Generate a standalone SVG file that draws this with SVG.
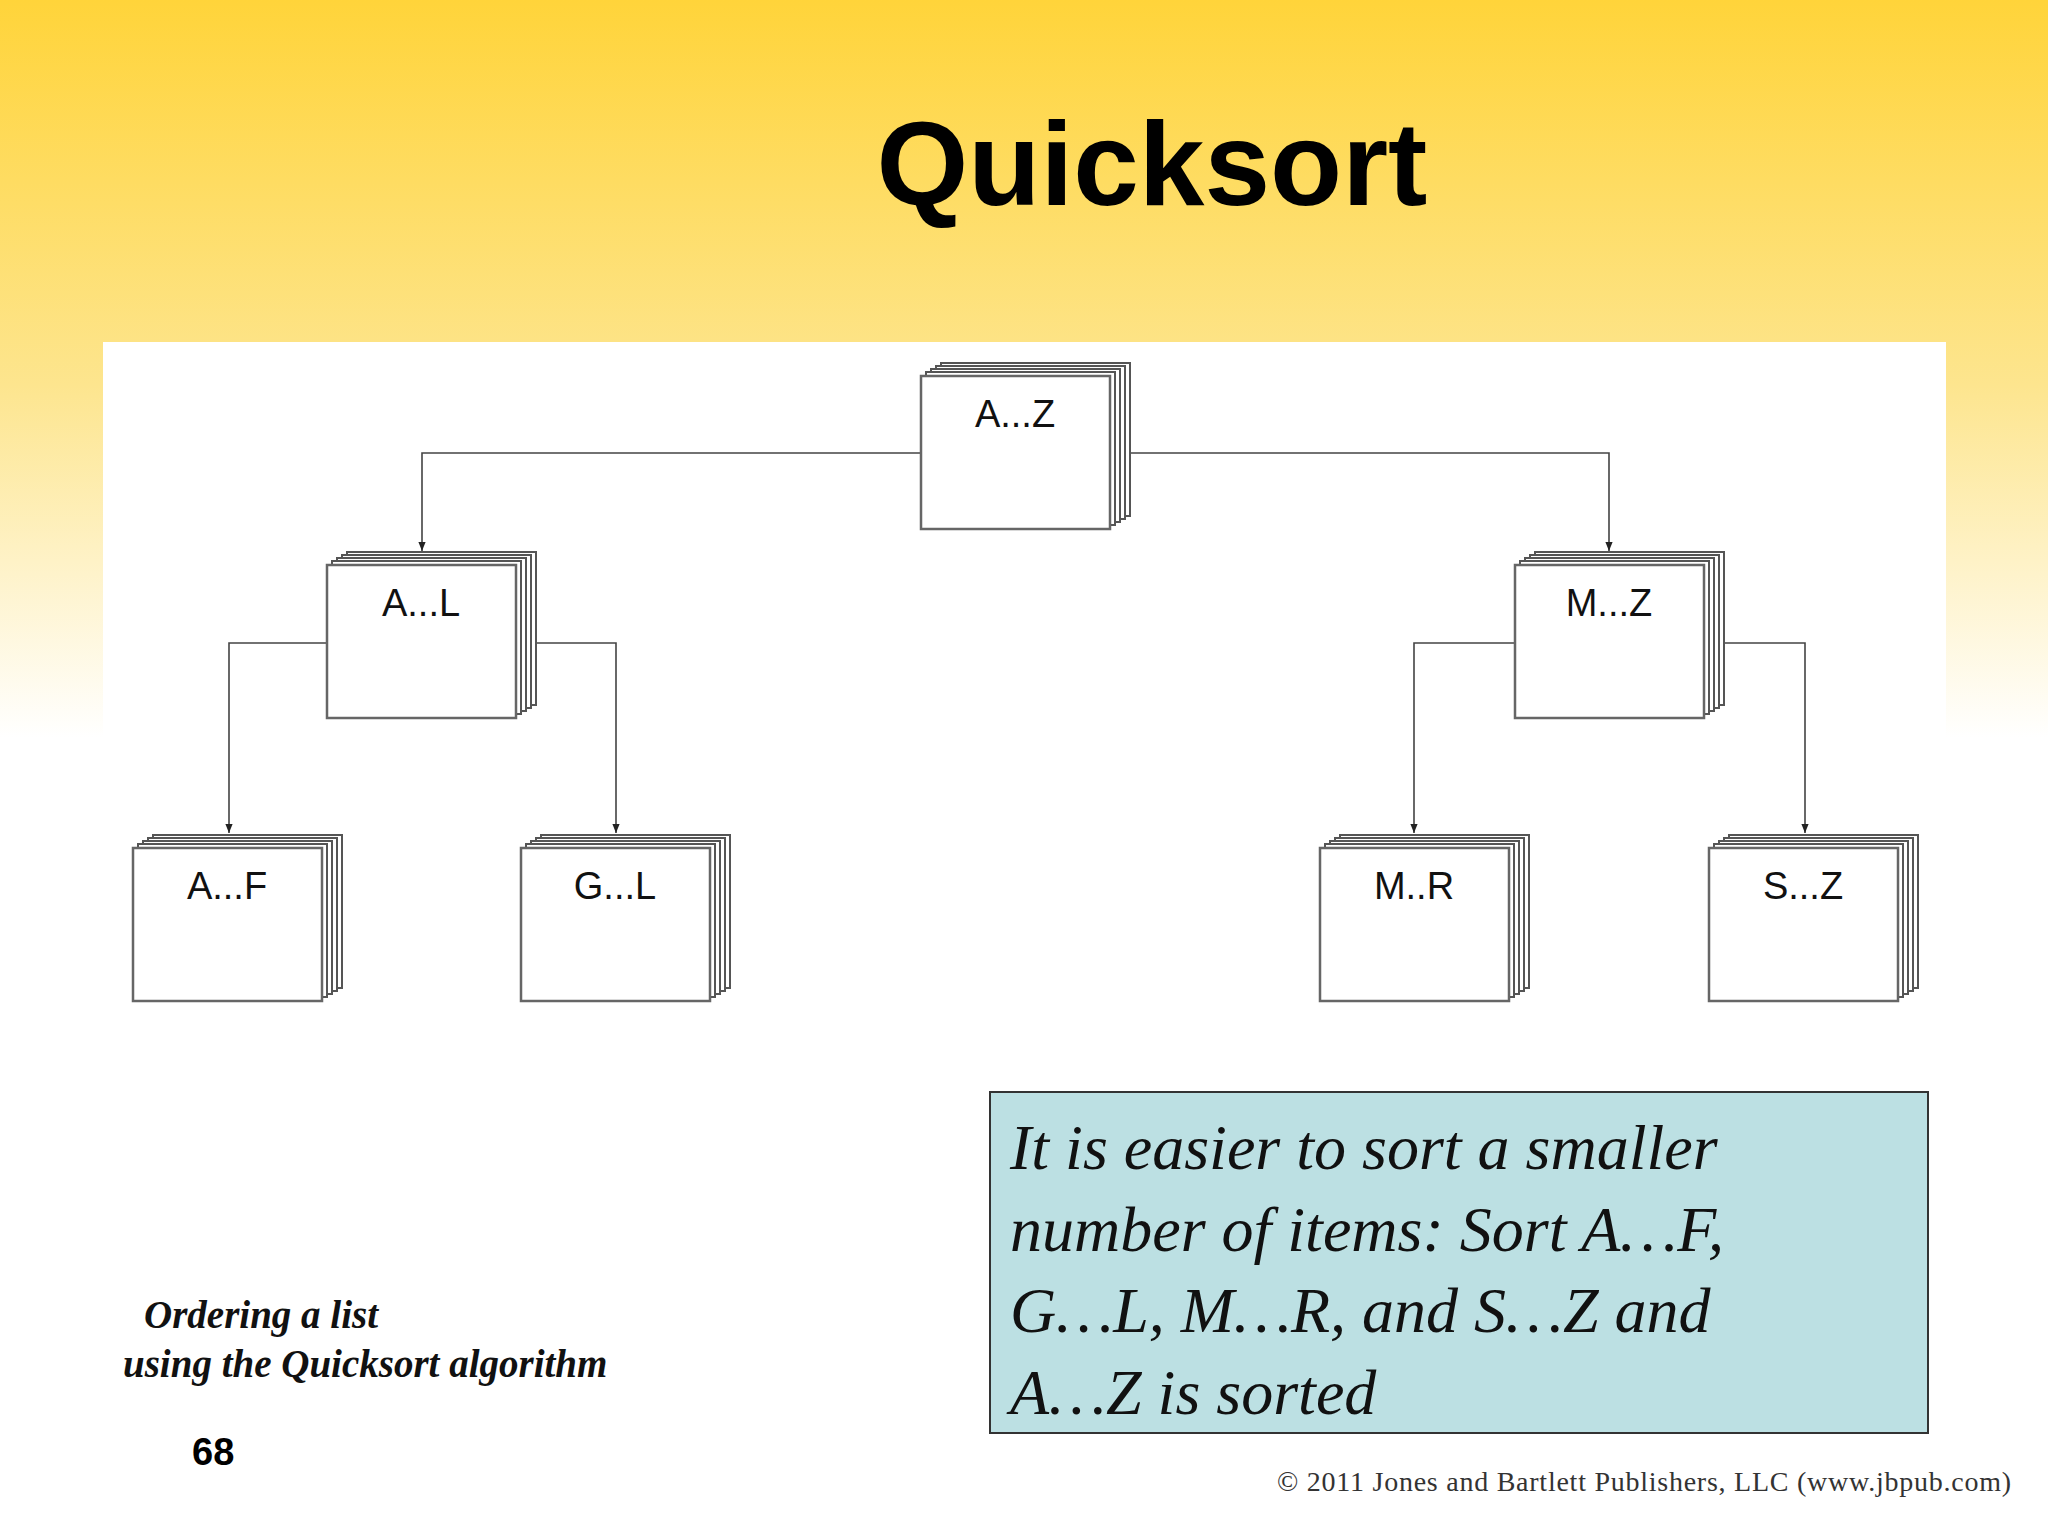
<svg xmlns="http://www.w3.org/2000/svg" width="2048" height="1536" viewBox="0 0 2048 1536">
<defs>
<linearGradient id="bg" x1="0" y1="0" x2="0" y2="1">
<stop offset="0" stop-color="#FFD43A"/><stop offset="0.25" stop-color="#FDE58E"/><stop offset="0.48" stop-color="#FFFFFF"/><stop offset="1" stop-color="#FFFFFF"/>
</linearGradient>
<marker id="ar" viewBox="0 0 10 10" refX="10" refY="5" markerWidth="9" markerHeight="9" orient="auto" markerUnits="userSpaceOnUse"><path d="M0,1 L10,5 L0,9 Z" fill="#222"/></marker>
<g id="stack">
<rect x="20" y="-13" width="189" height="153" fill="#fff" stroke="#555" stroke-width="2"/>
<rect x="15" y="-10" width="189" height="153" fill="#fff" stroke="#555" stroke-width="2"/>
<rect x="10" y="-7" width="189" height="153" fill="#fff" stroke="#555" stroke-width="2"/>
<rect x="5" y="-4" width="189" height="153" fill="#fff" stroke="#555" stroke-width="2"/>
<rect x="0" y="0" width="189" height="153" fill="#fff" stroke="#666" stroke-width="2.5"/>
</g>
</defs>
<style>
.lbl{font-family:"Liberation Sans",Arial,sans-serif;font-size:38px;text-anchor:middle;fill:#111}
.con{fill:none;stroke:#444;stroke-width:1.6}
.note{font-family:"Liberation Serif","Times New Roman",serif;font-style:italic;font-size:64px;fill:#111}
.cap{font-family:"Liberation Serif","Times New Roman",serif;font-style:italic;font-weight:bold;font-size:39px;fill:#111}
</style>
<rect width="2048" height="1536" fill="url(#bg)"/>
<rect x="103" y="342" width="1843" height="1194" fill="#fff"/>
<text x="1152" y="205" font-family="Liberation Sans,Arial,sans-serif" font-weight="bold" font-size="118" text-anchor="middle" fill="#000">Quicksort</text>
<g id="connectors">
<polyline class="con" points="921,453 422,453 422,551" marker-end="url(#ar)"/>
<polyline class="con" points="1120,453 1609,453 1609,551" marker-end="url(#ar)"/>
<polyline class="con" points="327,643 229,643 229,833" marker-end="url(#ar)"/>
<polyline class="con" points="533,643 616,643 616,833" marker-end="url(#ar)"/>
<polyline class="con" points="1515,643 1414,643 1414,833" marker-end="url(#ar)"/>
<polyline class="con" points="1721,643 1805,643 1805,833" marker-end="url(#ar)"/>
</g>
<g id="AZ"><use href="#stack" x="921" y="376"/><text class="lbl" x="1015" y="427">A...Z</text></g>
<g id="AL"><use href="#stack" x="327" y="565"/><text class="lbl" x="421" y="616">A...L</text></g>
<g id="MZ"><use href="#stack" x="1515" y="565"/><text class="lbl" x="1609" y="616">M...Z</text></g>
<g id="AF"><use href="#stack" x="133" y="848"/><text class="lbl" x="227" y="899">A...F</text></g>
<g id="GL"><use href="#stack" x="521" y="848"/><text class="lbl" x="615" y="899">G...L</text></g>
<g id="MR"><use href="#stack" x="1320" y="848"/><text class="lbl" x="1414" y="899">M..R</text></g>
<g id="SZ"><use href="#stack" x="1709" y="848"/><text class="lbl" x="1803" y="899">S...Z</text></g>
<g id="note">
<rect x="990" y="1092" width="938" height="341" fill="#BCE0E3" stroke="#333" stroke-width="2"/>
<text class="note" x="1010" y="1169">It is easier to sort a smaller</text>
<text class="note" x="1010" y="1251">number of items: Sort A…F,</text>
<text class="note" x="1010" y="1332">G…L, M…R, and S…Z and</text>
<text class="note" x="1010" y="1414">A…Z is sorted</text>
</g>
<text class="cap" x="144" y="1328">Ordering a list</text>
<text class="cap" x="123" y="1377">using the Quicksort algorithm</text>
<text x="192" y="1465" font-family="Liberation Sans,Arial,sans-serif" font-weight="bold" font-size="38" fill="#000">68</text>
<text x="1277" y="1491" font-family="Liberation Serif,Times New Roman,serif" font-size="28" fill="#333" textLength="734">© 2011 Jones and Bartlett Publishers, LLC (www.jbpub.com)</text>
</svg>
